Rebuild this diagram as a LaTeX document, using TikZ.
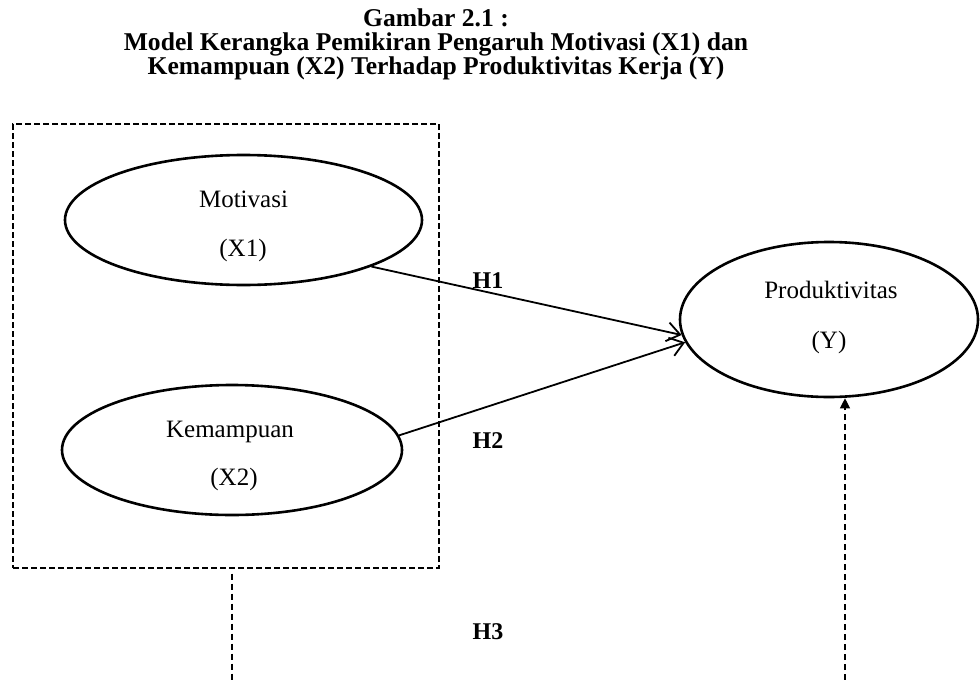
\documentclass[tikz,border=0pt]{standalone}
\usepackage{fontspec}
\setmainfont{Liberation Serif}
\usetikzlibrary{arrows.meta,shapes.geometric}

\begin{document}
\begin{tikzpicture}[x=1pt,y=-1pt]
        % Define styles
        \tikzset{
            varnode/.style={ellipse, draw, line width=2.6pt, inner sep=0pt},
            varlabel/.style={anchor=base, inner sep=0pt, font=\fontsize{25}{30}\selectfont},
            hypo/.style={inner sep=0pt, font=\bfseries\fontsize{24}{28}\selectfont},
            judul/.style={anchor=north, align=center, inner sep=0pt, font=\bfseries\fontsize{25.6}{24}\selectfont},
            kerangka/.style={rectangle, draw, line width=1.1pt, dash pattern=on 6pt off 3pt, inner sep=0pt},
            effect/.style={line width=1.8pt, -{Straight Barb[length=13pt,width=19pt]}},
            link/.style={line width=1.1pt, dash pattern=on 6pt off 4pt}
        }
        \useasboundingbox (0,0) rectangle (980,680);

        % Title
        \node[judul] (title) at (436,9) {Gambar 2.1 :\\Model Kerangka Pemikiran Pengaruh Motivasi (X1) dan\\Kemampuan (X2) Terhadap Produktivitas Kerja (Y)};

        % Nodes
        \node[kerangka, minimum width=426pt, minimum height=444pt] (box_x) at (226,346) {};
        \node[varnode, minimum width=357pt, minimum height=130pt] (motivasi) at (243.5,220) {};
        \node[varlabel] (motivasi_name) at (243.5,207) {Motivasi};
        \node[varlabel] (motivasi_code) at (243,256) {(X1)};
        \node[varnode, minimum width=340pt, minimum height=130pt] (kemampuan) at (232,450) {};
        \node[varlabel] (kemampuan_name) at (230,437) {Kemampuan};
        \node[varlabel] (kemampuan_code) at (234,485) {(X2)};
        \node[varnode, minimum width=298pt, minimum height=155pt] (produktivitas) at (829,319.5) {};
        \node[varlabel] (produktivitas_name) at (831,298) {Produktivitas};
        \node[varlabel] (produktivitas_code) at (829,348) {(Y)};
        \coordinate (h3_left) at (232,680);
        \coordinate (h3_right) at (845,680);

        % Arrows
        \draw[effect] (motivasi.-20) -- (produktivitas.186);
        \draw[effect] (kemampuan.5) -- (produktivitas.189);
        \draw[link, shorten <=5pt] (box_x.south -| h3_left) -- (h3_left);
        \draw[link, -{Triangle[length=10pt,width=10pt]}] (h3_right) -- (produktivitas.south -| h3_right);

        % Labels
        \node[hypo] (h1) at (488,281) {H1};
        \node[hypo] (h2) at (488,441) {H2};
        \node[hypo] (h3) at (488,632) {H3};
    \end{tikzpicture}
\end{document}
